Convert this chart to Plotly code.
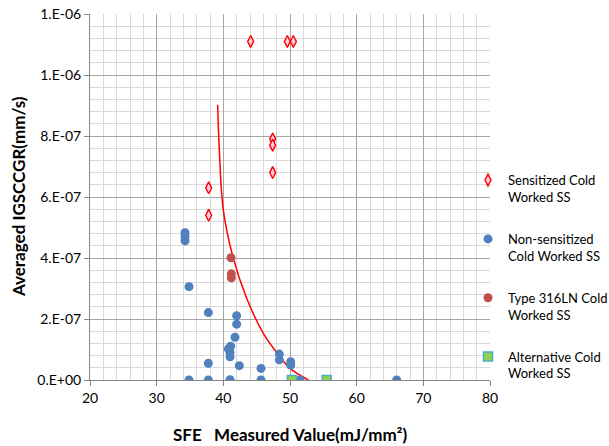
import plotly.graph_objects as go

# ---- data ----
sens_x = [44.1, 49.6, 50.5, 47.4, 47.4, 47.4, 37.8, 37.8]
sens_y = [1.11e-6, 1.11e-6, 1.11e-6, 7.9e-7, 7.7e-7, 6.8e-7, 6.3e-7, 5.4e-7]

nons_x = [34.25, 34.25, 34.25, 34.85, 34.85, 37.75, 37.75, 37.75,
          42.0, 42.0, 41.75, 41.1, 40.75, 41.0, 41.0, 41.0, 42.4, 45.65,
          48.4, 48.4, 50.1, 50.1, 41.0, 45.65, 51.5, 66.0]
nons_y = [4.83e-7, 4.70e-7, 4.56e-7, 3.06e-7, 0.0, 2.21e-7, 5.5e-8, 0.0,
          2.11e-7, 1.83e-7, 1.40e-7, 1.11e-7, 1.02e-7, 9.0e-8, 7.6e-8, 0.0, 4.7e-8, 3.8e-8,
          8.5e-8, 6.6e-8, 6.0e-8, 4.9e-8, 0.0, 0.0, 0.0, 0.0]

ln_x = [41.15, 41.2, 41.2]
ln_y = [4.01e-7, 3.48e-7, 3.35e-7]

alt_x = [50.3, 55.5]
alt_y = [0.0, 0.0]

trend_x = [39.15, 39.4, 40.0, 41.5, 43.5, 46.0, 48.5, 50.0, 52.75]
trend_y = [9.02e-7, 7.54e-7, 5.57e-7, 3.99e-7, 2.68e-7, 1.53e-7, 7.6e-8, 3.8e-8, 0.0]

y_tickvals = [0, 2e-7, 4e-7, 6e-7, 8e-7, 1.0e-6, 1.2e-6]
y_ticktext = ["0.E+00", "2.E-07", "4.E-07", "6.E-07", "8.E-07", "1.E-06", "1.E-06"]
x_tickvals = [20, 30, 40, 50, 60, 70, 80]

labels = ["Sensitized Cold<br>Worked SS", "Non-sensitized<br>Cold Worked SS",
          "Type 316LN Cold<br>Worked SS", "Alternative Cold<br>Worked SS"]

FONT = "Lato"

fig = go.Figure()

fig.add_trace(go.Scatter(x=trend_x, y=trend_y, mode="lines", line=dict(color="#FF0000", width=1.5, shape="spline"),
                         showlegend=False, hoverinfo="skip"))

fig.add_trace(go.Scatter(x=sens_x, y=sens_y, mode="markers", name=labels[0], legendgroup="a",
                         marker=dict(symbol="diamond-tall", size=8.5, color="#FFCCE6",
                                     line=dict(color="#FF0000", width=1.4))))
fig.add_trace(go.Scatter(x=nons_x, y=nons_y, mode="markers", name=labels[1], legendgroup="b",
                         marker=dict(symbol="circle", size=9, color="#4F81BD")))
fig.add_trace(go.Scatter(x=ln_x, y=ln_y, mode="markers", name=labels[2], legendgroup="c",
                         marker=dict(symbol="circle", size=9, color="#C0504D")))
fig.add_trace(go.Scatter(x=alt_x, y=alt_y, mode="markers", name=labels[3], legendgroup="d",
                         marker=dict(symbol="square", size=9, color="#92D050",
                                     line=dict(color="#4BACC6", width=1.5))))

fig.update_layout(
    width=609, height=446,
    margin=dict(l=90, r=119, t=14, b=66, autoexpand=False),
    paper_bgcolor="white", plot_bgcolor="white",
    font=dict(family=FONT, color="#000000"),
    legend=dict(x=0.945, xanchor="left", y=0.587, yanchor="top", valign="top",
                font=dict(family=FONT, size=13, color="#000000"),
                tracegroupgap=22, bgcolor="rgba(0,0,0,0)"),
    xaxis=dict(range=[20, 80], tickvals=x_tickvals, ticks="outside", ticklen=5, tickcolor="#868686",
               showline=True, linecolor="#868686", linewidth=1,
               showgrid=True, gridcolor="#A6A6A6", gridwidth=1,
               minor=dict(dtick=2, showgrid=True, gridcolor="#D9D9D9", gridwidth=1),
               tickfont=dict(family=FONT, size=14, color="#000000"), zeroline=False),
    yaxis=dict(range=[0, 1.2e-6], tickvals=y_tickvals, ticktext=y_ticktext, ticks="outside", ticklen=5,
               tickcolor="#868686", showline=True, linecolor="#868686", linewidth=1,
               showgrid=True, gridcolor="#A6A6A6", gridwidth=1,
               minor=dict(dtick=4e-8, showgrid=True, gridcolor="#D9D9D9", gridwidth=1),
               tickfont=dict(family=FONT, size=14, color="#000000"), zeroline=False),
    annotations=[
        dict(text="<b>SFE   Measured Value(mJ/mm²)</b>", xref="paper", yref="paper", x=0.5, y=-0.15,
             xanchor="center", yanchor="middle", showarrow=False, font=dict(family=FONT, size=17)),
        dict(text="<b>Averaged IGSCCGR(mm/s)</b>", xref="paper", yref="paper", x=-0.18, y=0.5,
             xanchor="center", yanchor="middle", textangle=-90, showarrow=False, font=dict(family=FONT, size=17)),
    ],
)

fig.write_html("out.html")
